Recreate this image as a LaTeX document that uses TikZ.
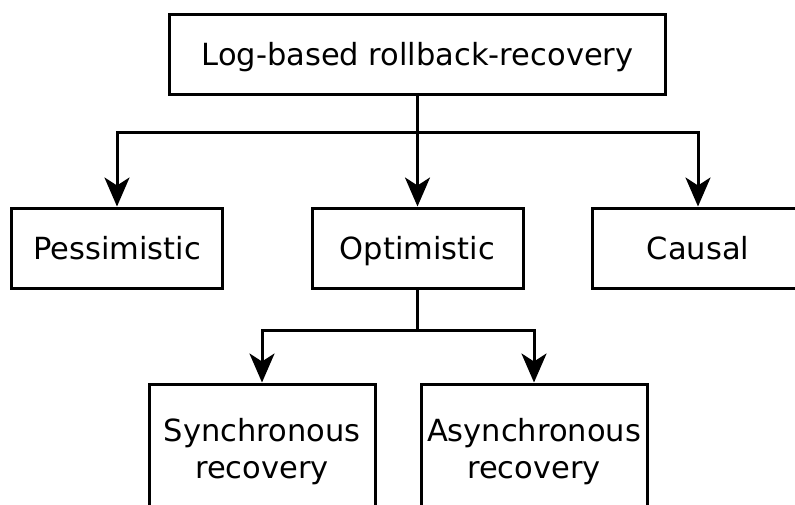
\documentclass[tikz,border=0pt]{standalone}
\usepackage{fontspec}
\setmainfont{DejaVu Sans}
\usetikzlibrary{arrows.meta}
\begin{document}
\begin{tikzpicture}[x=1pt,y=-1pt,
  base/.style={draw, line width=3pt, inner sep=0pt, align=center,
    font=\fontsize{30.5}{37}\selectfont},
  box/.style={base, minimum width=211pt, minimum height=80pt,
    text height=22pt, text depth=0pt},
  tallbox/.style={base, minimum width=226pt, minimum height=135pt},
  conn/.style={line width=3pt},
  arr/.style={conn, -{Stealth[length=29pt,width=25pt,inset=8pt]}}]
\useasboundingbox (0,0) rectangle (795,504);
\fill[white] (0,0) rectangle (795,504);
\node[box, minimum width=496pt] (top) at (417.5,54) {Log-based rollback-recovery};
\node[box] (pess) at (117,248) {Pessimistic};
\node[box] (opt) at (417.5,248) {Optimistic};
\node[box] (caus) at (698,248) {Causal};
\node[tallbox] (sync) at (262,451.5) {Synchronous\\recovery};
\node[tallbox] (async) at (534,451.5) {Asynchronous\\recovery};
\coordinate (j1) at (417.5,132);
\coordinate (j2) at (417.5,330);
\draw[conn] (top.south) -- (j1);
\draw[arr] (j1) -| (pess.north);
\draw[arr] (j1) -- (opt.north);
\draw[arr] (j1) -| (caus.north);
\draw[conn] (opt.south) -- (j2);
\draw[arr] (j2) -| (sync.north);
\draw[arr] (j2) -| (async.north);
\end{tikzpicture}
\end{document}
